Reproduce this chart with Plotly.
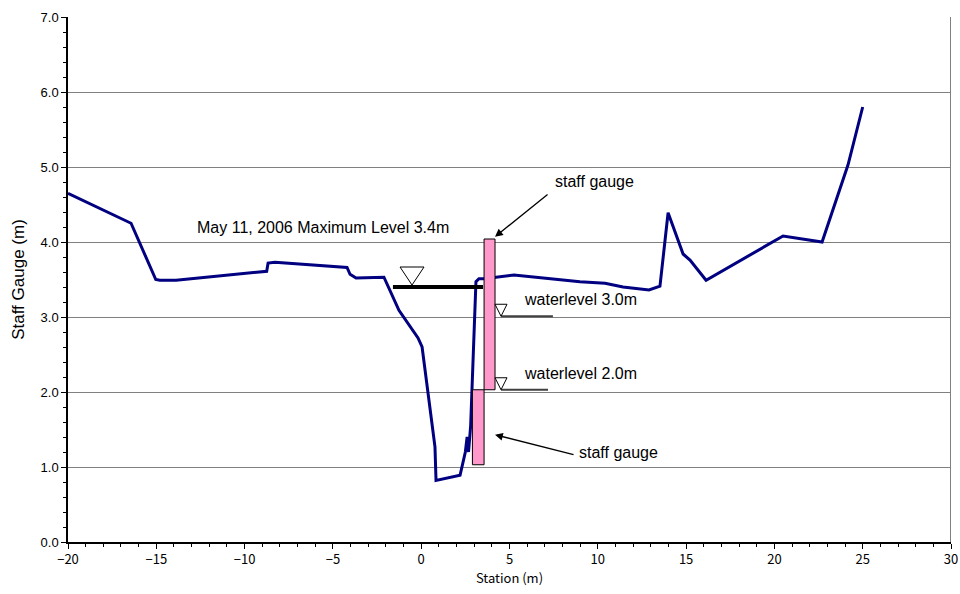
import plotly.graph_objects as go

# Cross-section survey
station = [-20.0, -16.43, -15.03, -14.8, -13.88, -8.75, -8.67, -8.28, -4.2, -4.03, -3.69, -2.11,
           -1.26, -0.18, 0.05, 0.78, 0.84, 2.2, 2.5, 2.6, 2.68, 2.8, 3.1, 3.27, 3.56,
           4.29, 5.25, 8.99, 10.41, 11.43, 12.9, 13.52, 13.98, 14.83, 15.22, 16.13,
           20.49, 22.7, 24.17, 25.0]
elevation = [4.65, 4.25, 3.5, 3.49, 3.49, 3.61, 3.72, 3.73, 3.66, 3.57, 3.52, 3.53,
             3.09, 2.72, 2.6, 1.27, 0.82, 0.89, 1.2, 1.4, 1.2, 1.55, 3.47, 3.51, 3.51,
             3.53, 3.56, 3.47, 3.45, 3.4, 3.36, 3.41, 4.39, 3.84, 3.76, 3.49,
             4.08, 4.0, 5.03, 5.8]

# Staff gauges (x0, x1, y0, y1)
gauge_x0 = [3.56, 2.9]
gauge_x1 = [4.18, 3.56]
gauge_y0 = [2.03, 1.03]
gauge_y1 = [4.04, 2.03]

# Maximum level
max_level = 3.4
max_x = [-1.6, 3.5]
max_tri_x = -0.52

# Water levels
wl_levels = [3.01, 2.03]
wl_x0 = [4.52, 4.52]
wl_x1 = [7.46, 7.18]
wl_labels = ["waterlevel 3.0m", "waterlevel 2.0m"]
wl_label_x = 5.71
wl_label_y = [3.23, 2.25]

font_main = "Liberation Sans"
font_axis = "Noto Sans CJK JP"
txt_size = 16

fig = go.Figure()
fig.add_trace(go.Scatter(x=station, y=elevation, mode="lines",
                         line=dict(color="#000080", width=3), showlegend=False,
                         hoverinfo="skip"))
fig.add_trace(go.Scatter(x=max_x, y=[max_level, max_level], mode="lines",
                         line=dict(color="black", width=4), showlegend=False))
for lv, a, b in zip(wl_levels, wl_x0, wl_x1):
    fig.add_trace(go.Scatter(x=[a, b], y=[lv, lv], mode="lines",
                             line=dict(color="#404040", width=2), showlegend=False))

shapes = []
for a, b, c, d in zip(gauge_x0, gauge_x1, gauge_y0, gauge_y1):
    shapes.append(dict(type="rect", xref="x", yref="y", x0=a, x1=b, y0=c, y1=d,
                       fillcolor="#FF99CC", line=dict(color="black", width=1), layer="above"))
# triangles (pixel-sized, anchored at tip)
shapes.append(dict(type="path", xref="x", yref="y", xsizemode="pixel", ysizemode="pixel",
                   xanchor=max_tri_x, yanchor=max_level,
                   path="M-12,20 L12,20 L0,2 Z", fillcolor="white",
                   line=dict(color="black", width=1), layer="above"))
for lv, a in zip(wl_levels, wl_x0):
    shapes.append(dict(type="path", xref="x", yref="y", xsizemode="pixel", ysizemode="pixel",
                       xanchor=a, yanchor=lv,
                       path="M-6,12 L6,12 L0,0 Z", fillcolor="white",
                       line=dict(color="black", width=1), layer="above"))
# right border
shapes.append(dict(type="line", xref="x", yref="y", x0=30, x1=30, y0=0, y1=7,
                   line=dict(color="#808080", width=2)))

annotations = [
    dict(x=-5.56, y=4.19, xref="x", yref="y", text="May 11, 2006 Maximum Level 3.4m",
         showarrow=False, font=dict(family=font_main, size=txt_size, color="black")),
    dict(x=4.18, y=4.07, ax=7.24, ay=4.65, axref="x", ayref="y", xref="x", yref="y",
         text="", showarrow=True, arrowhead=2, arrowsize=1.2, arrowwidth=1.3, arrowcolor="black"),
    dict(x=7.46, y=4.81, xref="x", yref="y", xanchor="left", text="staff gauge",
         showarrow=False, font=dict(family=font_main, size=txt_size, color="black")),
    dict(x=4.18, y=1.43, ax=8.71, ay=1.16, axref="x", ayref="y", xref="x", yref="y",
         text="", showarrow=True, arrowhead=2, arrowsize=1.2, arrowwidth=1.3, arrowcolor="black"),
    dict(x=8.82, y=1.19, xref="x", yref="y", xanchor="left", text="staff gauge",
         showarrow=False, font=dict(family=font_main, size=txt_size, color="black")),
]
for lab, ly in zip(wl_labels, wl_label_y):
    annotations.append(dict(x=wl_label_x, y=ly, xref="x", yref="y", xanchor="left",
                            text=lab, showarrow=False,
                            font=dict(family=font_main, size=txt_size, color="black")))

fig.update_layout(
    width=960, height=594,
    margin=dict(l=68, r=9, t=17, b=52, autoexpand=False),
    plot_bgcolor="white", paper_bgcolor="white",
    shapes=shapes, annotations=annotations,
    font=dict(family="Liberation Sans", size=13, color="black"),
    xaxis=dict(range=[-20, 30], tick0=-20, dtick=5, showgrid=False, zeroline=False,
               automargin=False,
               showline=True, linecolor="black", linewidth=1.5,
               ticks="outside", ticklen=5, tickcolor="black",
               minor=dict(dtick=1, ticks="outside", ticklen=3, tickcolor="black"),
               tickfont=dict(family=font_axis, size=13),
               title=dict(text="Station (m)", font=dict(family=font_axis, size=13), standoff=6)),
    yaxis=dict(range=[0, 7], dtick=1, tickformat=".1f", showgrid=True, gridcolor="#808080",
               gridwidth=1, zeroline=False, showline=True, linecolor="black", linewidth=1.5,
               automargin=False,
               ticks="outside", ticklen=5, tickcolor="black",
               minor=dict(dtick=0.2, ticks="outside", ticklen=3, tickcolor="black", showgrid=False),
               tickfont=dict(family="Liberation Sans", size=13),
               title=dict(text="Staff Gauge (m)", font=dict(family="Liberation Sans", size=17),
                          standoff=12)),
)

fig.write_html("out.html")
